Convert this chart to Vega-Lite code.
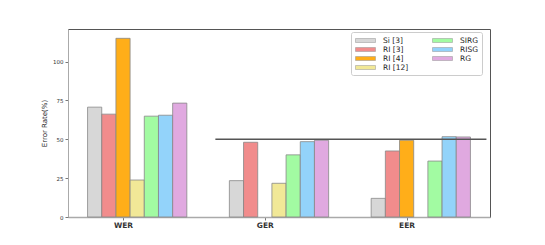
{
  "$schema": "https://vega.github.io/schema/vega-lite/v6.json",
  "width": 422,
  "height": 188,
  "autosize": "none",
  "padding": {"left": 68, "top": 29, "right": 55, "bottom": 28},
  "background": "white",
  "config": {
    "view": {"stroke": "#555", "strokeWidth": 1},
    "font": "DejaVu Sans",
    "axis": {"labelColor": "#333", "titleColor": "#222", "domainColor": "#aaa", "tickColor": "#777", "grid": false}
  },
  "data": {
    "values": [
      {"metric": "WER", "method": "Si [3]", "value": 70.7},
      {"metric": "WER", "method": "RI [3]", "value": 66.2},
      {"metric": "WER", "method": "RI [4]", "value": 115},
      {"metric": "WER", "method": "RI [12]", "value": 23.8},
      {"metric": "WER", "method": "SIRG", "value": 64.9},
      {"metric": "WER", "method": "RISG", "value": 65.5},
      {"metric": "WER", "method": "RG", "value": 73.3},
      {"metric": "GER", "method": "Si [3]", "value": 23.4},
      {"metric": "GER", "method": "RI [3]", "value": 48.1},
      {"metric": "GER", "method": "RI [12]", "value": 21.7},
      {"metric": "GER", "method": "SIRG", "value": 40},
      {"metric": "GER", "method": "RISG", "value": 48.5},
      {"metric": "GER", "method": "RG", "value": 49.4},
      {"metric": "EER", "method": "Si [3]", "value": 12},
      {"metric": "EER", "method": "RI [3]", "value": 42.5},
      {"metric": "EER", "method": "RI [4]", "value": 49.4},
      {"metric": "EER", "method": "SIRG", "value": 36},
      {"metric": "EER", "method": "RISG", "value": 51.7},
      {"metric": "EER", "method": "RG", "value": 51.5}
    ]
  },
  "layer": [
    {
      "mark": {"type": "bar", "stroke": "#888", "strokeWidth": 1, "fillOpacity": 0.9, "strokeOpacity": 0.8},
      "encoding": {
        "x": {
          "field": "metric", "type": "nominal",
          "scale": {"domain": ["WER", "GER", "EER"], "paddingInner": 0.3, "paddingOuter": 0.138},
          "axis": {"title": null, "labelAngle": 0, "labelFontSize": 7.5, "labelFontWeight": "bold", "tickOffset": -14.2, "tickSize": 3, "labelPadding": 1, "domainWidth": 1.5}
        },
        "xOffset": {
          "field": "method", "type": "nominal",
          "scale": {"domain": ["Si [3]", "RI [3]", "RI [4]", "RI [12]", "SIRG", "RISG", "RG"], "paddingInner": 0, "paddingOuter": 0}
        },
        "y": {
          "field": "value", "type": "quantitative",
          "scale": {"domain": [0, 121], "nice": false},
          "axis": {"title": "Error Rate(%)", "values": [0, 25, 50, 75, 100], "labelFontSize": 5.5, "tickSize": 3, "labelPadding": 2, "titleFontSize": 7, "titleFontWeight": "normal", "titlePadding": 5}
        },
        "color": {
          "field": "method", "type": "nominal",
          "scale": {
            "domain": ["Si [3]", "RI [3]", "RI [4]", "RI [12]", "SIRG", "RISG", "RG"],
            "range": ["#d3d3d3", "#f08080", "#ffa500", "#f0e68c", "#98fb98", "#87cefa", "#dda0dd"]
          },
          "legend": {
            "title": null, "orient": "none", "legendX": 283, "legendY": 3, "columns": 2,
            "symbolType": "M-1,-0.5H4V0.5H-1Z", "symbolSize": 64, "symbolStrokeColor": "#888", "symbolStrokeWidth": 0.5, "symbolOpacity": 0.9,
            "labelFontSize": 7.5, "labelColor": "#222", "labelOffset": 19, "columnPadding": 22, "rowPadding": 1,
            "padding": 4, "fillColor": "white", "strokeColor": "#ccc", "cornerRadius": 2
          }
        }
      }
    },
    {
      "data": {"values": [{"threshold": 50}]},
      "mark": {"type": "rule", "color": "#555", "strokeWidth": 1.5, "xOffset": -14, "x2Offset": 16},
      "encoding": {
        "y": {"field": "threshold", "type": "quantitative"},
        "x": {"datum": "GER", "type": "nominal", "bandPosition": 0},
        "x2": {"datum": "EER", "bandPosition": 1}
      }
    }
  ]
}
